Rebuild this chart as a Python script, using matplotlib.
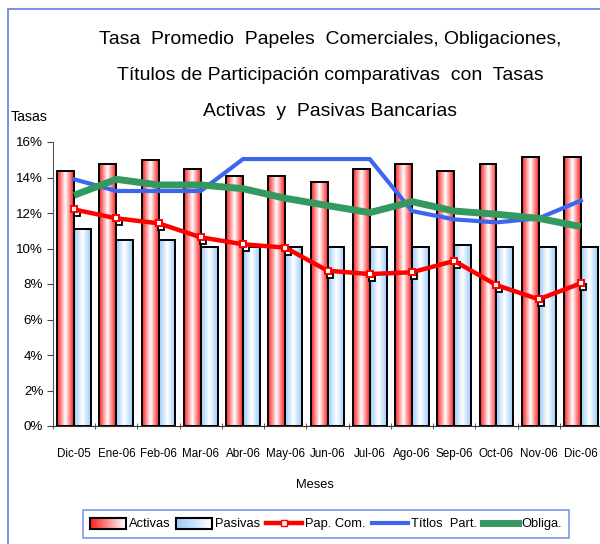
import numpy as np
import matplotlib
matplotlib.use("Agg")
import matplotlib.pyplot as plt
from matplotlib import font_manager
from matplotlib.patches import Rectangle
from matplotlib.lines import Line2D
from matplotlib.legend_handler import HandlerBase
from matplotlib.transforms import offset_copy

# ---------------- data ----------------
meses = ["Dic-05", "Ene-06", "Feb-06", "Mar-06", "Abr-06", "May-06", "Jun-06",
         "Jul-06", "Ago-06", "Sep-06", "Oct-06", "Nov-06", "Dic-06"]
activas = [14.38, 14.78, 15.00, 14.50, 14.10, 14.10, 13.73, 14.50, 14.78, 14.38, 14.78, 15.15, 15.15]
pasivas = [11.12, 10.46, 10.46, 10.08, 10.08, 10.08, 10.07, 10.07, 10.07, 10.20, 10.07, 10.07, 10.07]
pap_com = [12.20, 11.70, 11.42, 10.63, 10.24, 10.05, 8.75, 8.56, 8.66, 9.30, 7.94, 7.14, 8.04]
titulos = [13.90, 13.24, 13.24, 13.24, 15.04, 15.04, 15.04, 15.04, 12.11, 11.64, 11.47, 11.70, 12.70]
obliga = [13.00, 13.90, 13.58, 13.58, 13.37, 12.83, 12.42, 12.02, 12.64, 12.11, 11.93, 11.70, 11.23]
yticks = [0, 2, 4, 6, 8, 10, 12, 14, 16]

# ---------------- fonts ----------------
def has_font(name):
    try:
        font_manager.findfont(font_manager.FontProperties(family=name), fallback_to_default=False)
        return True
    except Exception:
        return False

if has_font("Liberation Sans Narrow"):
    FAM = ["Liberation Sans Narrow", "DejaVu Sans"]
    k = 1.0
else:
    FAM = ["Liberation Sans", "DejaVu Sans"]
    k = 0.84
plt.rcParams["font.family"] = FAM

W, H = 600, 544
fig = plt.figure(figsize=(W / 100, H / 100), dpi=100)

# outer blue frame (partly cut off, as in the reference)
fig.patches.append(Rectangle((8 / W, -0.05), 1.2, 1 - 9 / H + 0.05, transform=fig.transFigure,
                             facecolor="none", edgecolor="#5b7fe8", linewidth=1.2))

ax = fig.add_axes([53 / W, 118 / H, 549 / W, 284 / H])
x = np.arange(len(meses))
bw = 0.4

red_edge = np.array([1.0, 0.10, 0.10])
blue_edge = np.array([0.60, 0.79, 0.97])
white = np.array([1.0, 1.0, 1.0])

def grad_row(edge, n=40, two_sided=True):
    u = (np.arange(n) + 0.5) / n
    if two_sided:
        t = np.abs(2 * u - 1) ** 1.0
    else:
        t = (1 - u) ** 1.0
    return (white[None, :] * (1 - t[:, None]) + edge[None, :] * t[:, None])[None, :, :]

def grad_bars(xs, vals, edge):
    bars = ax.bar(xs, vals, bw, facecolor="none", edgecolor="black", linewidth=1.4, zorder=3)
    g = grad_row(edge)
    for r in bars:
        ax.imshow(g, extent=[r.get_x(), r.get_x() + r.get_width(), 0, r.get_height()],
                  aspect="auto", interpolation="bilinear", zorder=2)
    return bars

grad_bars(x - bw / 2, activas, red_edge)
grad_bars(x + bw / 2, pasivas, blue_edge)

# Pap. Com. with black shadow markers
shadow = offset_copy(ax.transData, fig=fig, x=2.5, y=-4, units="dots")
ax.plot(x, pap_com, linestyle="none", marker="s", markersize=5, markerfacecolor="white",
        markeredgecolor="black", markeredgewidth=1.3, transform=shadow, zorder=4)
ax.plot(x, pap_com, color="#ff0000", linewidth=3.2, marker="s", markersize=5,
        markerfacecolor="white", markeredgecolor="#ff0000", markeredgewidth=1.4, zorder=5)
ax.plot(x, titulos, color="#3d66f0", linewidth=3.0, zorder=6)
ax.plot(x, obliga, color="#33995f", linewidth=5.0, zorder=7, solid_capstyle="butt")

ax.set_xlim(-0.5, len(meses) - 0.5)
ax.set_ylim(0, 16)
ax.set_yticks(yticks)
ax.set_yticklabels([f"{v}%" for v in yticks], fontsize=11.5 * k)
ax.set_xticks(x)
ax.set_xticklabels(meses, fontsize=10 * k)
ax.set_xticks(np.arange(len(meses) + 1) - 0.5, minor=True)
ax.tick_params(axis="x", which="major", length=0, pad=16)
ax.tick_params(axis="x", which="minor", length=4, direction="inout", color="#444444")
ax.tick_params(axis="y", length=4, direction="out", color="#444444", pad=3)
for s in ["top", "right"]:
    ax.spines[s].set_visible(False)
ax.spines["left"].set_color("#555555")
ax.spines["bottom"].set_color("#333333")

# texts
title_lines = ["Tasa  Promedio  Papeles  Comerciales, Obligaciones,",
               "Títulos de Participación comparativas  con  Tasas",
               "Activas  y  Pasivas Bancarias"]
for line, yp in zip(title_lines, [40, 76, 112]):
    fig.text(330 / W, 1 - yp / H, line, ha="center", va="center", fontsize=16.6 * k)
fig.text(11 / W, 1 - 117 / H, "Tasas", ha="left", va="center", fontsize=12 * k)
fig.text(315 / W, 1 - 485 / H, "Meses", ha="center", va="center", fontsize=11 * k)

# legend with gradient patches
class GradHandler(HandlerBase):
    def __init__(self, edge):
        super().__init__()
        self.edge = edge

    def create_artists(self, legend, orig_handle, xdescent, ydescent, width, height, fontsize, trans):
        n = 24
        arts = []
        row = grad_row(self.edge, n=n, two_sided=False)[0]
        for i in range(n):
            arts.append(Rectangle((-xdescent + i * width / n, -ydescent), width / n + 0.3, height,
                                  facecolor=row[i], edgecolor="none", transform=trans))
        arts.append(Rectangle((-xdescent, -ydescent), width, height, facecolor="none",
                              edgecolor="black", linewidth=1.5, transform=trans))
        return arts

h_act = Rectangle((0, 0), 1, 1, label="Activas")
h_pas = Rectangle((0, 0), 1, 1, label="Pasivas")
h_pap = Line2D([], [], color="#ff0000", linewidth=3.2, marker="s", markersize=5,
               markerfacecolor="white", markeredgecolor="#ff0000", label="Pap. Com.")
h_tit = Line2D([], [], color="#3d66f0", linewidth=3.0, label="Títlos  Part.")
h_obl = Line2D([], [], color="#33995f", linewidth=5.0, label="Obliga.")
leg = fig.legend(handles=[h_act, h_pas, h_pap, h_tit, h_obl],
                 handler_map={h_act: GradHandler(red_edge), h_pas: GradHandler(blue_edge)},
                 loc="center", bbox_to_anchor=(326 / W, 1 - 524 / H), ncol=5,
                 fontsize=11 * k, frameon=True, fancybox=False, handlelength=2.8,
                 handleheight=0.95, handletextpad=0.25, columnspacing=0.45, borderpad=0.55)
leg.get_frame().set_edgecolor("#5b7fe8")
leg.get_frame().set_linewidth(1.2)

fig.savefig("out.png", dpi=100)
